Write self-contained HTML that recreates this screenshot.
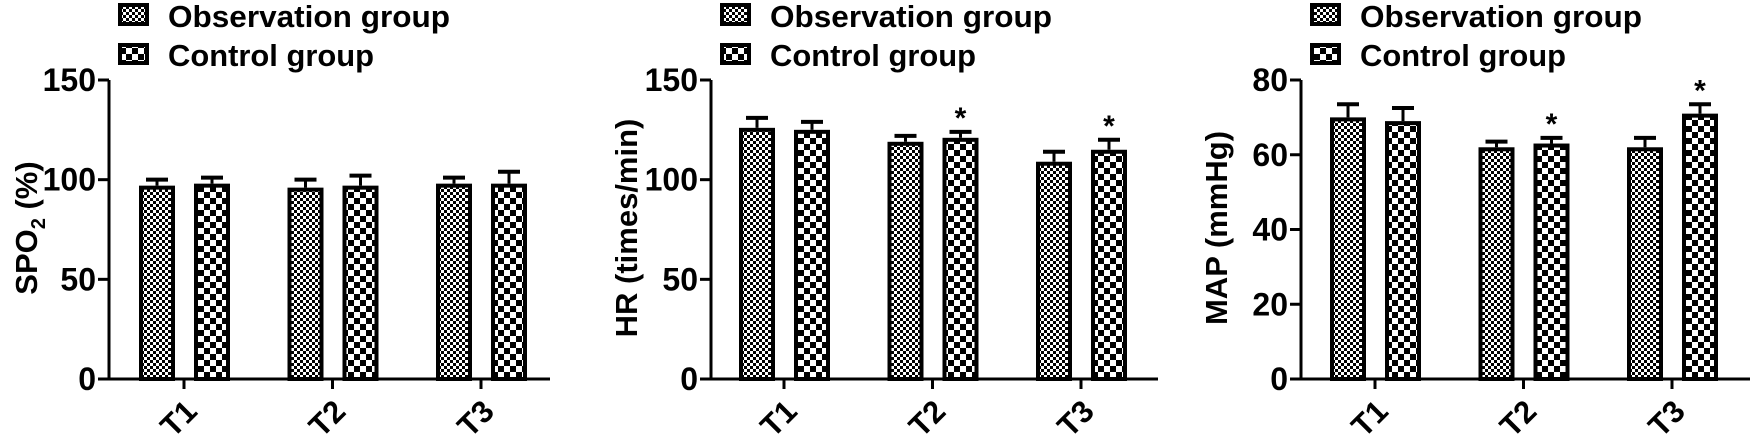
<!DOCTYPE html>
<html><head><meta charset="utf-8"><style>
html,body{margin:0;padding:0;background:#fff;}
svg text{font-family:"Liberation Sans",Arial,sans-serif;font-weight:bold;fill:#000;}
</style></head><body>
<svg id="s" width="1750" height="439" viewBox="0 0 1750 439" xmlns="http://www.w3.org/2000/svg">
<defs>
<pattern id="fine" width="6" height="6" patternUnits="userSpaceOnUse">
<rect width="6" height="6" fill="#fff"/><rect width="3" height="3" fill="#000"/><rect x="3" y="3" width="3" height="3" fill="#000"/>
</pattern>
<pattern id="coarse" width="12" height="12" patternUnits="userSpaceOnUse">
<rect width="12" height="12" fill="#fff"/><rect width="6" height="6" fill="#000"/><rect x="6" y="6" width="6" height="6" fill="#000"/>
</pattern>
</defs>
</svg>
<script>
const s=document.getElementById('s');let h='';
const Y0=379,YT=80;
const panels=[
 {ax:109,t1:184,end:550,max:150,ticks:[0,50,100,150],lab:'SPO',
  d:[[97,3,98,3,0],[96,4,97,5,0],[98,3,98,6,0]]},
 {ax:711,t1:784,end:1158,max:150,ticks:[0,50,100,150],lab:'HR (times/min)',
  d:[[126,5,125,4,0],[119,3,121,3,1],[109,5,115,5,1]]},
 {ax:1301,t1:1375,end:1750,max:80,ticks:[0,20,40,60,80],lab:'MAP (mmHg)',
  d:[[70,3.5,69,3.5,0],[62,1.5,63,1.5,1],[62,2.5,71,2.5,1]]}
];
panels.forEach((p,pi)=>{
 const sy=v=>Y0-(v/p.max)*(Y0-YT);
 const lx=p.ax+9;
 h+=`<rect x="${lx+2}" y="5" width="27" height="19" fill="url(#fine)" stroke="#000" stroke-width="4"/>`;
 h+=`<rect x="${lx+2}" y="45" width="27" height="18" fill="url(#coarse)" stroke="#000" stroke-width="4"/>`;
 h+=`<text x="${lx+50}" y="27" font-size="31" textLength="282" lengthAdjust="spacingAndGlyphs">Observation group</text>`;
 h+=`<text x="${lx+50}" y="66" font-size="31" textLength="206" lengthAdjust="spacingAndGlyphs">Control group</text>`;
 h+=`<line x1="${p.ax}" y1="${YT}" x2="${p.ax}" y2="${Y0+1}" stroke="#000" stroke-width="3"/>`;
 h+=`<line x1="${p.ax-11}" y1="${Y0}" x2="${p.end}" y2="${Y0}" stroke="#000" stroke-width="3"/>`;
 p.ticks.forEach(t=>{const y=sy(t);
  h+=`<line x1="${p.ax-11}" y1="${y}" x2="${p.ax}" y2="${y}" stroke="#000" stroke-width="3"/>`;
  h+=`<text x="${p.ax-13}" y="${y+11}" font-size="32" text-anchor="end">${t}</text>`;});
 const cy=228;
 if(pi==0){
  h+=`<text transform="translate(37,${cy}) rotate(-90)" font-size="31" text-anchor="middle">SPO<tspan font-size="20" dy="8">2</tspan><tspan dy="-8">  (%)</tspan></text>`;
 } else {
  h+=`<text transform="translate(${p.ax-74},${cy}) rotate(-90)" font-size="31" text-anchor="middle">${p.lab}</text>`;
 }
 p.d.forEach((g,i)=>{
  const tx=p.t1+i*148.5;
  h+=`<line x1="${tx}" y1="${Y0}" x2="${tx}" y2="${Y0+10}" stroke="#000" stroke-width="3"/>`;
  h+=`<text transform="translate(${tx+2},${Y0+47}) rotate(-45)" font-size="31" text-anchor="middle">T${i+1}</text>`;
  [[g[0],g[1],tx-45,'fine'],[g[2],g[3],tx+10,'coarse']].forEach((b,k)=>{
   const top=sy(b[0]),et=sy(b[0]+b[1]),cx=b[2]+18;
   h+=`<line x1="${cx}" y1="${top}" x2="${cx}" y2="${et}" stroke="#000" stroke-width="3"/>`;
   h+=`<line x1="${cx-11}" y1="${et}" x2="${cx+11}" y2="${et}" stroke="#000" stroke-width="4"/>`;
   h+=`<rect x="${b[2]+2}" y="${top+2}" width="32" height="${Y0-top-2}" fill="url(#${b[3]})" stroke="#000" stroke-width="4"/>`;
   if(k==1&&g[4]) h+=`<text x="${cx}" y="${et-4}" font-size="30" text-anchor="middle">*</text>`;
  });
 });
});
s.insertAdjacentHTML('beforeend',h);
</script>
</body></html>
